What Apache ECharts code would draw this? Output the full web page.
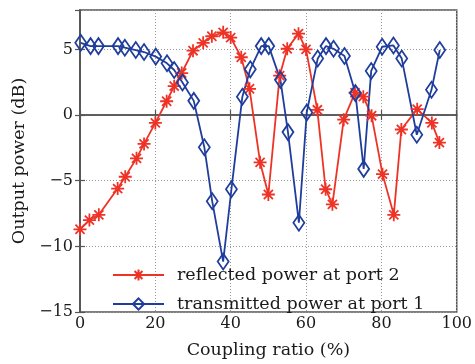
<!DOCTYPE html>
<html>
<head>
<meta charset="utf-8">
<script src="https://cdn.jsdelivr.net/npm/echarts@6/dist/echarts.min.js"></script>
<style>html,body{margin:0;padding:0;background:#fff;}#c{width:475px;height:364px;}</style>
</head>
<body>
<div id="c"></div>
<script>
var reflectedX = [0,2.5,5,10,12,15,17,20,23,25,27,30,32.7,35,38,40,42.8,45,47.8,50,53,55,58,60,63,65.2,67,70,73,75.2,77.4,80.3,83.3,85.3,89.5,93.4,95.4];
var reflectedY = [-8.7,-8.0,-7.6,-5.6,-4.7,-3.3,-2.2,-0.6,1.05,2.2,3.2,4.9,5.5,6.0,6.3,5.9,4.4,2.0,-3.6,-6.05,3.0,5.05,6.2,5.0,0.4,-5.65,-6.8,-0.35,1.7,1.4,-0.05,-4.5,-7.6,-1.1,0.45,-0.6,-2.1];
var transmittedX = [0.2,2.8,4.9,10.1,11.9,14.8,17,20.1,23.1,25,27.2,30.2,33,35.1,38,40.2,43.1,45.2,48.1,50.1,53.2,55.2,58.1,60.2,63.1,65.3,67.3,70.2,73.1,75.3,77.3,80.2,83.2,85.4,89.4,93.3,95.5];
var transmittedY = [5.5,5.25,5.25,5.25,5.13,4.95,4.8,4.45,3.94,3.43,2.48,1.08,-2.45,-6.57,-11.16,-5.65,1.4,3.48,5.25,5.25,2.68,-1.3,-8.2,0.2,4.3,5.25,5.05,4.5,1.67,-4.1,3.36,5.2,5.3,4.3,-1.5,1.92,4.95];
var xTicks = [0,20,40,60,80,100];
var yTicks = [-15,-10,-5,0,5];
var seriesNames = ['reflected power at port 2','transmitted power at port 1'];

function pairs(xs, ys){ return xs.map(function(x,i){ return [x, ys[i]]; }); }
var RED = '#ee3326', BLUE = '#1f3d9c';
var FONT = 'DejaVu Serif';
var TXT = '#1a1a1a';
var star = 'path://M10 0 L10 20 M0 10 L20 10 M3 3 L17 17 M17 3 L3 17';
var diamond = 'path://M5 0 L10 7 L5 14 L0 7 Z';
function fmt(v){ return String(v).replace('-', '\u2212'); }

var chart = echarts.init(document.getElementById('c'));
var axisLineStyle = {color:'#555', width:1.5};
chart.setOption({
  animation:false,
  backgroundColor:'#fff',
  grid:{left:80, right:17, top:10, bottom:50, show:true, borderColor:'#555', borderWidth:1.5},
  legend:{
    left:107, top:261, orient:'vertical', itemWidth:51, itemHeight:14, itemGap:11,
    textStyle:{fontFamily:FONT, fontSize:17.5, color:TXT, padding:[0,0,0,8]},
    data:seriesNames
  },
  xAxis:[{
    type:'value', min:0, max:100, interval:20,
    name:'Coupling ratio (%)', nameLocation:'middle', nameGap:29,
    nameTextStyle:{fontFamily:FONT, fontSize:17.5, color:TXT},
    axisLine:{show:true, lineStyle:axisLineStyle},
    axisTick:{show:true, inside:true, length:5, lineStyle:{color:'#555', width:1.2}},
    axisLabel:{fontFamily:FONT, fontSize:16, color:TXT, margin:4, formatter:fmt},
    splitLine:{show:true, lineStyle:{color:'#999', type:[1,2], width:1}}
  },{
    type:'value', min:0, max:100, interval:20, position:'top',
    axisLine:{show:true, lineStyle:axisLineStyle},
    axisTick:{show:true, inside:true, length:5, lineStyle:{color:'#555', width:1.2}},
    axisLabel:{show:false}, splitLine:{show:false}
  }],
  yAxis:[{
    type:'value', min:-15, max:8, interval:5,
    name:'Output power (dB)', nameLocation:'middle', nameGap:45,
    nameTextStyle:{fontFamily:FONT, fontSize:17.5, color:TXT},
    axisLine:{show:true, lineStyle:axisLineStyle},
    axisTick:{show:true, inside:true, length:5, lineStyle:{color:'#555', width:1.2}},
    axisLabel:{fontFamily:FONT, fontSize:16, color:TXT, margin:7, showMaxLabel:false,
      formatter:function(v){ return yTicks.indexOf(v) >= 0 ? fmt(v) : ''; }},
    splitLine:{show:true, lineStyle:{color:'#999', type:[1,2], width:1}}
  },{
    type:'value', min:-15, max:8, interval:5, position:'right',
    axisLine:{show:true, lineStyle:axisLineStyle},
    axisTick:{show:true, inside:true, length:5, lineStyle:{color:'#555', width:1.2}},
    axisLabel:{show:false}, splitLine:{show:false}
  }],
  series:[{
    name:seriesNames[0], type:'line', data:pairs(reflectedX, reflectedY),
    symbol:star, symbolSize:13, showAllSymbol:true,
    lineStyle:{color:RED, width:1.8},
    itemStyle:{color:RED, borderColor:RED, borderWidth:1.8}
  },{
    name:seriesNames[1], type:'line', data:pairs(transmittedX, transmittedY),
    symbol:diamond, symbolSize:[11,16], showAllSymbol:true,
    lineStyle:{color:BLUE, width:1.8},
    itemStyle:{color:'rgba(255,255,255,0)', borderColor:BLUE, borderWidth:1.8}
  }]
});
</script>
</body>
</html>
